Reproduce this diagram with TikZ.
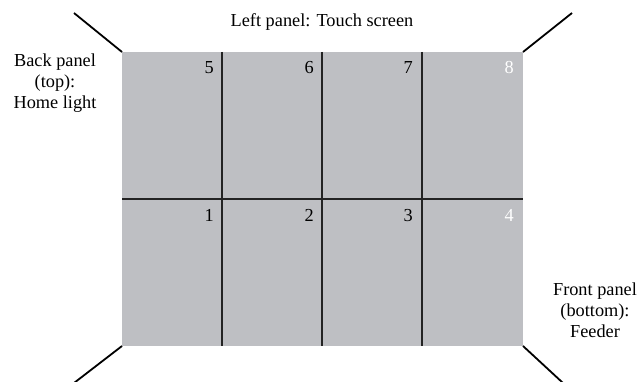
\documentclass[tikz,border=0pt]{standalone}
\usepackage{fontspec}
\setmainfont{Liberation Serif}
\usepackage{xcolor}
\usetikzlibrary{positioning}

\definecolor{panelgray}{RGB}{190,191,195}
\definecolor{gridline}{RGB}{35,35,35}

\begin{document}
\begin{tikzpicture}[x=1pt,y=-1pt,
    label/.style={font=\fontsize{18.3}{21}\selectfont,align=center,inner sep=0pt},
    cellnum/.style={font=\fontsize{18.3}{21}\selectfont,anchor=base east,inner sep=0pt},
    corner/.style={line width=1.8pt,black}]
    \useasboundingbox (0,0) rectangle (639,382);

    % the eight cells
    \fill[panelgray] (122,52) coordinate (tl) rectangle (523,346) coordinate (br);
    \coordinate (tr) at (523,52);
    \coordinate (bl) at (122,346);
    \foreach \x/\n in {222/a,322/b,422/c}
        \draw[gridline,line width=1.4pt] (\x,52) -- (\x,346);
    \draw[gridline,line width=1.4pt] (tl |- 0,199) -- (tr |- 0,199);

    % numbers
    \foreach \x/\top/\bot/\col in {214/5/1/black,314/6/2/black,413/7/3/black,514/8/4/white} {
        \node[cellnum,text=\col] (n\top) at (\x,74) {\top};
        \node[cellnum,text=\col] (n\bot) at (\x,221) {\bot};
    }

    % corner strokes
    \coordinate (etl) at (74,13);
    \coordinate (etr) at (572,13);
    \coordinate (ebl) at (74,383);
    \coordinate (ebr) at (563,383);
    \draw[corner] (tl) -- (etl);
    \draw[corner] (tr) -- (etr);
    \draw[corner] (bl) -- (ebl);
    \draw[corner] (br) -- (ebr);

    % panel labels
    \node[label,anchor=base] (left) at (322,27) {Left panel: Touch screen};
    \node[label] (back) at (55,83.5) {Back panel\\(top):\\Home light};
    \node[label] (front) at (595,310) {Front panel\\(bottom):\\Feeder};
\end{tikzpicture}
\end{document}
